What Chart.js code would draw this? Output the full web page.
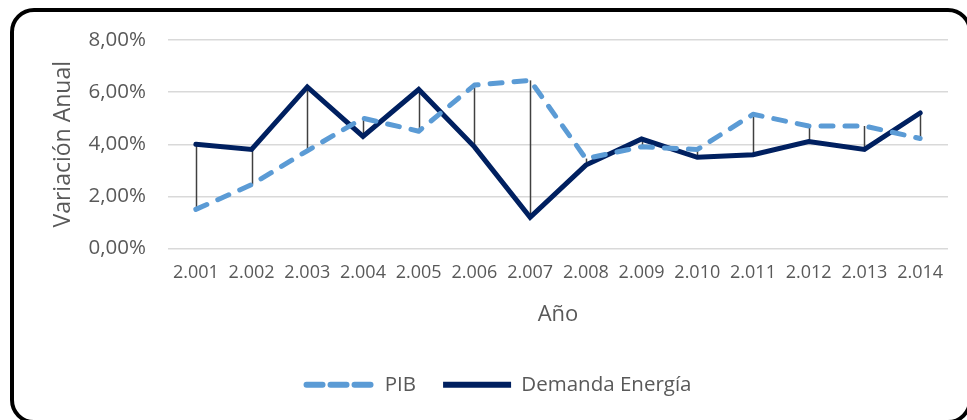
<!DOCTYPE html>
<html>
<head>
<meta charset="utf-8">
<script src="https://cdn.jsdelivr.net/npm/chart.js@4.4.1/dist/chart.umd.min.js"></script>
<style>
html,body{margin:0;padding:0;width:967px;height:420px;overflow:hidden;background:#fff;}
#wrap{position:absolute;left:0;top:0;width:967px;height:420px;}
#frame{position:absolute;left:10px;top:8px;width:954px;height:408px;border:4px solid #000;border-radius:24px;pointer-events:none;}
</style>
</head>
<body>
<div id="wrap"><canvas id="c" width="967" height="420"></canvas></div>
<div id="frame"></div>
<script>
const categories = ["2.001","2.002","2.003","2.004","2.005","2.006","2.007","2.008","2.009","2.010","2.011","2.012","2.013","2.014"];
const pib = [1.5, 2.45, 3.75, 5.0, 4.5, 6.27, 6.45, 3.45, 3.9, 3.8, 5.15, 4.7, 4.7, 4.22];
const demanda = [4.0, 3.8, 6.2, 4.3, 6.1, 3.9, 1.2, 3.2, 4.2, 3.5, 3.6, 4.1, 3.8, 5.2];
const yTicks = [0, 2, 4, 6, 8];

const dropLines = {
  id: 'dropLines',
  beforeDatasetsDraw(chart) {
    const ctx = chart.ctx, xs = chart.scales.x, ys = chart.scales.y;
    ctx.save();
    ctx.strokeStyle = '#404040';
    ctx.lineWidth = 1.5;
    categories.forEach((c, i) => {
      const x = xs.getPixelForValue(i);
      const a = ys.getPixelForValue(pib[i]);
      const b = ys.getPixelForValue(demanda[i]);
      ctx.beginPath();
      ctx.moveTo(Math.round(x) + 0.5, a);
      ctx.lineTo(Math.round(x) + 0.5, b);
      ctx.stroke();
    });
    ctx.restore();
  }
};

new Chart(document.getElementById('c'), {
  type: 'line',
  data: {
    labels: categories,
    datasets: [
      { label: 'PIB', data: pib, borderColor: '#5b9bd5', backgroundColor: '#5b9bd5', borderWidth: 5, borderDash: [12, 12], borderCapStyle: 'round', borderJoinStyle: 'round', pointRadius: 0, tension: 0, fill: false },
      { label: 'Demanda Energía', data: demanda, borderColor: '#002060', backgroundColor: '#002060', borderWidth: 5, borderCapStyle: 'round', borderJoinStyle: 'miter', pointRadius: 0, tension: 0, fill: false }
    ]
  },
  options: {
    responsive: false,
    animation: false,
    devicePixelRatio: 1,
    layout: { padding: { left: 50, right: 19, top: 40, bottom: 15 } },
    plugins: {
      tooltip: { enabled: false },
      legend: {
        position: 'bottom',
        labels: {
          font: { family: 'Open Sans', size: 20.5 },
          color: '#595959',
          boxWidth: 68,
          boxHeight: 0,
          padding: 27,
          usePointStyle: false,
          generateLabels(chart) {
            return chart.data.datasets.map((ds, i) => ({
              text: ds.label, fillStyle: ds.borderColor, strokeStyle: ds.borderColor,
              lineWidth: 6, lineDash: i === 0 ? [12, 12] : [], lineCap: 'round', datasetIndex: i, fontColor: '#595959'
            }));
          }
        }
      }
    },
    scales: {
      x: {
        offset: true,
        grid: { display: false, drawTicks: false },
        border: { display: false },
        ticks: { color: '#595959', font: { family: 'Open Sans', size: 18 }, padding: 14, maxRotation: 0, autoSkip: false },
        title: { display: true, text: 'Año', color: '#595959', font: { family: 'Open Sans', size: 22 }, padding: { top: 3, bottom: 20 } }
      },
      y: {
        min: 0, max: 8,
        afterBuildTicks(scale) { scale.ticks = yTicks.map(v => ({ value: v })); },
        afterFit(scale) { scale.width = 118; },
        grid: { color: '#d9d9d9', lineWidth: 1.5, drawTicks: false },
        border: { display: false },
        ticks: { color: '#595959', font: { family: 'Open Sans', size: 20.5 }, padding: 22, callback: v => v.toFixed(2).replace('.', ',') + '%' },
        title: { display: true, text: 'Variación Anual', color: '#595959', font: { family: 'Open Sans', size: 23 }, padding: 0 }
      }
    }
  },
  plugins: [dropLines]
});
</script>
</body>
</html>
